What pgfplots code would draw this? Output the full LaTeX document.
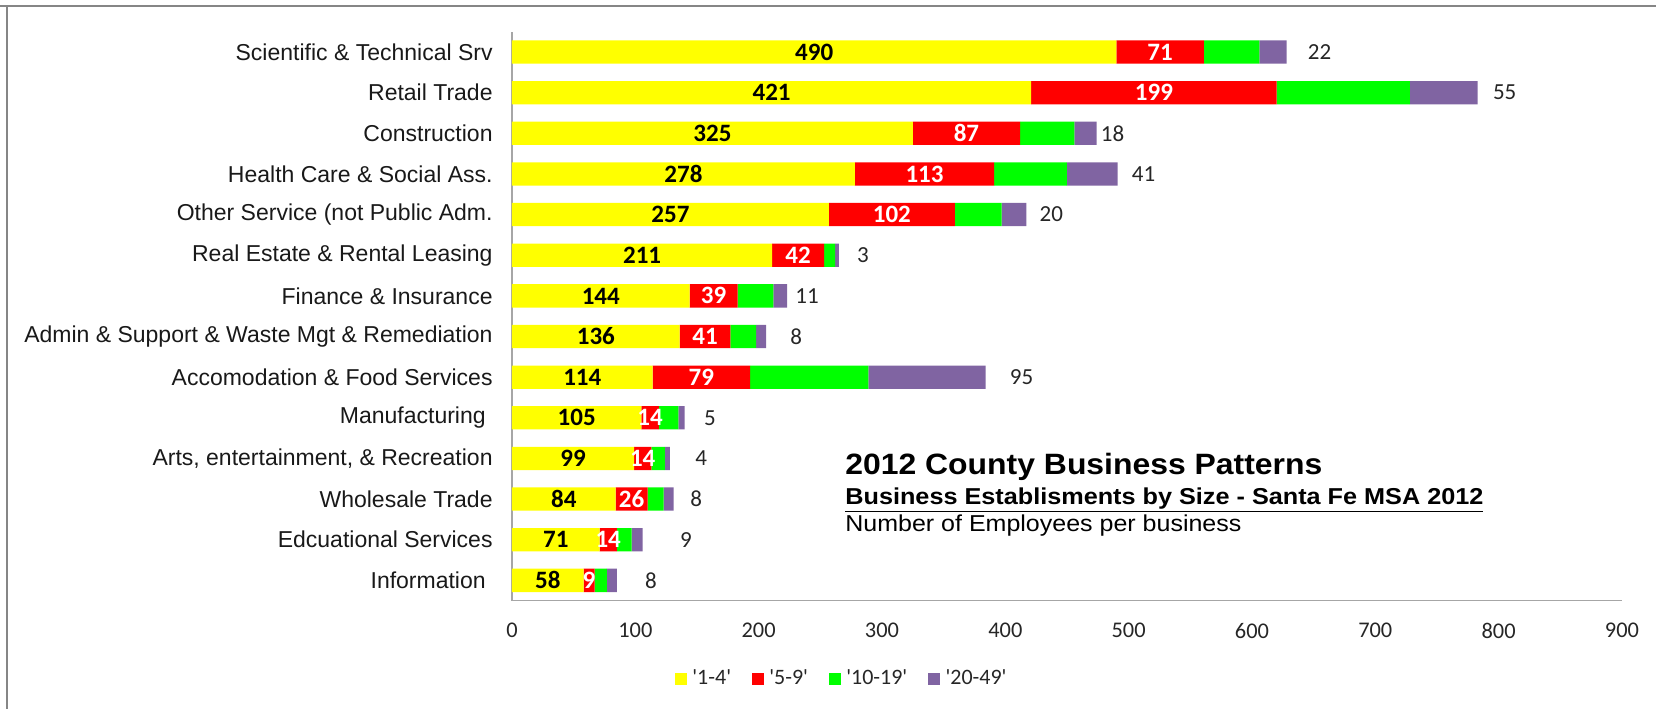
\documentclass[border=0pt]{standalone}
\usepackage{fontspec}
\setmainfont{Liberation Sans}
\newfontfamily\calibri{Carlito}
\usepackage{graphicx}
\usepackage{pgfplots}
\usepackage{pgfplotstable}
\pgfplotsset{compat=1.18}

\definecolor{cYel}{HTML}{FFFF00}
\definecolor{cRed}{HTML}{FF0000}
\definecolor{cGrn}{HTML}{00FF00}
\definecolor{cPur}{HTML}{8064A2}
\definecolor{cBorder}{HTML}{868686}
\definecolor{cAxis}{HTML}{A6A6A6}

% idx 0 = Information (bottom) ... 13 = Scientific (top); off = gap of outside label (px)
\pgfplotstableread{
idx a   b   c   d  off
0   58  9   10  8  28
1   71  14  12  9  37
2   84  26  13  8  16.5
3   99  14  11  4  25
4   105 14  16  5  19
5   114 79  96  95 24
6   136 41  21  8  24
7   144 39  29  11 8
8   211 42  9   3  18
9   257 102 38  20 13
10  278 113 59  41 14
11  325 87  44  18 4
12  421 199 108 55 15
13  490 71  45  22 21
}\datatable

\pgfplotsset{
  commonaxis/.style={
    at={(0pt,0pt)}, anchor=south west,
    scale only axis, width=555pt, height=284.5pt,
    xmin=0, xmax=900, ymin=-0.5, ymax=13.5,
    clip=false,
    /pgf/number format/assume math mode=true,
  }
}

\begin{document}
\begin{tikzpicture}
\useasboundingbox (-256pt,-54.15pt) rectangle (572pt,300.35pt);
\draw[cBorder, line width=1pt] (-256pt,297.35pt) -- (572pt,297.35pt);
\draw[cBorder, line width=1pt] (-252.35pt,297.85pt) -- (-252.35pt,-54.15pt);
\begin{axis}[
  commonaxis,
  xbar stacked,
  bar width=11.65pt,
  axis x line=bottom, axis y line=left,
  axis line style={-, draw=cAxis, line width=0.65pt},
  xtick={0,100,...,900},
  ytick={0,...,13},
  yticklabels={{Information\hspace*{0.3em}}, Edcuational Services, Wholesale Trade,
    {Arts, entertainment, \& Recreation}, {Manufacturing\hspace*{0.3em}},
    Accomodation \& Food Services, Admin \& Support \& Waste Mgt \& Remediation,
    Finance \& Insurance, Real Estate \& Rental Leasing, Other Service (not Public Adm.,
    Health Care \& Social Ass., Construction, Retail Trade, Scientific \& Technical Srv},
  major tick length=0pt,
  xticklabel style={font=\calibri\fontsize{11.2}{13}\selectfont, anchor=center, yshift=-15pt, text=black!85},
  yticklabel style={font=\fontsize{11.5}{13}\selectfont, anchor=east, inner sep=0pt, xshift=-9.5pt, text=black!90},
  legend style={at={(axis description cs:0.2963,-0.1376)}, anchor=center, draw=none, fill=none,
    legend columns=4, font=\calibri\fontsize{11}{13}\selectfont, text=black!85,
    nodes={inner sep=0pt},
    /tikz/every odd column/.append style={column sep=2.8pt},
    /tikz/every even column/.append style={column sep=10.5pt}},
  legend image code/.code={\fill[#1] (0pt,-2.9pt) rectangle (5.8pt,2.9pt);},
]
\addplot[fill=cYel, draw=none] table[x=a, y=idx] {\datatable};
\addplot[fill=cRed, draw=none] table[x=b, y=idx] {\datatable};
\addplot[fill=cGrn, draw=none] table[x=c, y=idx] {\datatable};
\addplot[fill=cPur, draw=none] table[x=d, y=idx] {\datatable};
\legend{\textquotesingle1-4\textquotesingle, \textquotesingle5-9\textquotesingle,
  \textquotesingle10-19\textquotesingle, \textquotesingle20-49\textquotesingle}
\end{axis}
% data labels, placed from the same table
\begin{axis}[commonaxis, hide axis]
\addplot[draw=none, mark=none, point meta=explicit, nodes near coords,
  every node near coord/.append style={anchor=center, inner sep=0pt,
    font=\calibri\bfseries\fontsize{12.5}{14}\selectfont, text=black}]
  table[x expr={\thisrow{a}/2}, y=idx, meta=a] {\datatable};
\addplot[draw=none, mark=none, point meta=explicit, nodes near coords,
  every node near coord/.append style={anchor=center, inner sep=0pt,
    font=\calibri\bfseries\fontsize{12.5}{14}\selectfont, text=white}]
  table[x expr={\thisrow{a}+\thisrow{b}/2}, y=idx, meta=b] {\datatable};
\addplot[draw=none, mark=none, point meta=explicit, nodes near coords,
  every node near coord/.append style={anchor=west, inner sep=0pt,
    font=\calibri\fontsize{11.5}{13}\selectfont, text=black!85}]
  table[x expr={\thisrow{a}+\thisrow{b}+\thisrow{c}+\thisrow{d}+0.8108*\thisrow{off}}, y=idx, meta=d] {\datatable};
\end{axis}
\node[anchor=base west, inner sep=0pt] at (166.5pt,63.2pt)
  {\resizebox{238.5pt}{\height}{\bfseries\fontsize{14.7}{16}\selectfont 2012 County Business Patterns}};
\node[anchor=base west, inner sep=0pt] at (166.5pt,48.35pt)
  {\resizebox{319pt}{\height}{\bfseries\fontsize{11.5}{13}\selectfont\underline{Business Establisments by Size - Santa Fe MSA 2012}}};
\node[anchor=base west, inner sep=0pt] at (166.5pt,34.5pt)
  {\resizebox{198pt}{\height}{\fontsize{11.5}{13}\selectfont Number of Employees per business}};
\end{tikzpicture}
\end{document}
